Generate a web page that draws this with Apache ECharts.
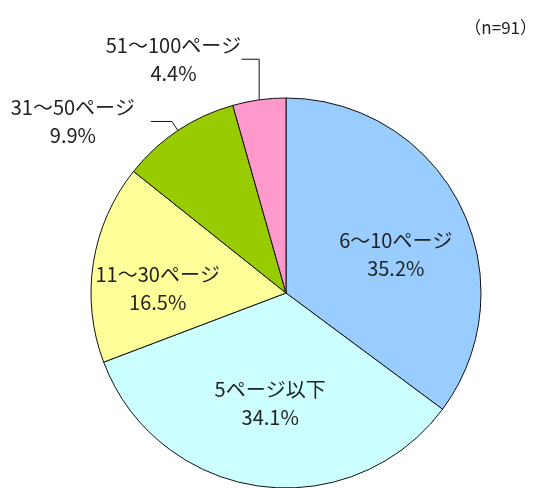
<!DOCTYPE html>
<html>
<head>
<meta charset="utf-8">
<script src="https://cdn.jsdelivr.net/npm/echarts@6/dist/echarts.min.js"></script>
<style>
  html, body { margin: 0; padding: 0; background: #fff; }
  #chart { width: 551px; height: 488px; }
</style>
</head>
<body>
<div id="chart"></div>
<script>
// Page-count distribution of documents (n=91)
const categories = ['6～10ページ', '5ページ以下', '11～30ページ', '31～50ページ', '51～100ページ'];
const shares = [35.2, 34.1, 16.5, 9.9, 4.4];
const colors = ['#99CCFF', '#CCFFFF', '#FFFF99', '#99CC00', '#FF99CC'];
const sampleNote = '（n=91）';

const FONT = '"Noto Sans CJK JP", "Noto Sans", sans-serif';

// label placement per slice: big slices inside, small ones outside with leaders
const labelTweaks = [
  { label: { position: 'inside', offset: [20, 7] } },
  { label: { position: 'inside', offset: [-2, 11] } },
  { label: { position: 'inside', offset: [-29, 11] } },
  { label: { position: 'outside', distanceToLabelLine: 10 }, labelLine: { show: true, length: 11, length2: 21 } },
  { label: { position: 'outside', distanceToLabelLine: 0 }, labelLine: { show: true, length: 41, length2: 12 } }
];

const data = categories.map((name, i) => Object.assign({
  name: name,
  value: shares[i],
  itemStyle: { color: colors[i] }
}, labelTweaks[i]));

const chart = echarts.init(document.getElementById('chart'), null, { renderer: 'canvas' });
chart.setOption({
  animation: false,
  backgroundColor: '#fff',
  title: {
    text: sampleNote,
    right: 9,
    top: 14,
    textStyle: { fontFamily: FONT, fontSize: 17, fontWeight: 'normal', color: '#222' }
  },
  series: [{
    type: 'pie',
    center: [286, 293],
    radius: 195,
    startAngle: 90,
    clockwise: true,
    avoidLabelOverlap: false,
    itemStyle: { borderColor: '#111', borderWidth: 1 },
    label: {
      show: true,
      formatter: (p) => '{t|' + p.name + '}\n{t|' + p.value.toFixed(1) + '%}',
      rich: {
        t: { fontFamily: FONT, fontSize: 20, color: '#222', lineHeight: 28, align: 'center', width: 136 }
      }
    },
    labelLine: {
      show: false,
      lineStyle: { color: '#111', width: 1 },
      smooth: false
    },
    // the thinnest slice gets a straight vertical leader before turning left
    labelLayout: (params) => {
      const pts = params.labelLinePoints;
      if (params.dataIndex === 4 && pts && pts.length === 3) {
        return {
          labelLinePoints: [pts[0], [pts[0][0], pts[1][1]], [pts[2][0], pts[1][1]]]
        };
      }
      return {};
    },
    emphasis: { disabled: true },
    data: data
  }]
});
</script>
</body>
</html>
